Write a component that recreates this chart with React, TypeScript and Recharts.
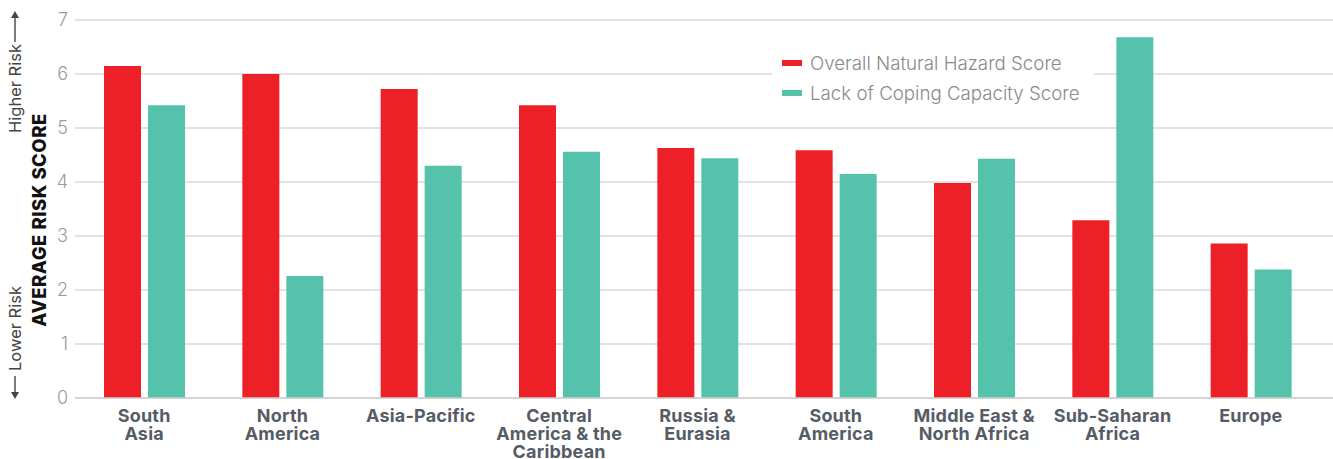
import React from 'react';
import { BarChart, Bar, XAxis, YAxis, CartesianGrid } from 'recharts';

// categories (regions) and the two score series
const regions = [
  'South Asia',
  'North America',
  'Asia-Pacific',
  'Central America & the Caribbean',
  'Russia & Eurasia',
  'South America',
  'Middle East & North Africa',
  'Sub-Saharan Africa',
  'Europe',
];
const regionLines = [
  ['South', 'Asia'],
  ['North', 'America'],
  ['Asia-Pacific'],
  ['Central', 'America & the', 'Caribbean'],
  ['Russia &', 'Eurasia'],
  ['South', 'America'],
  ['Middle East &', 'North Africa'],
  ['Sub-Saharan', 'Africa'],
  ['Europe'],
];
const hazardScores = [6.15, 6.0, 5.72, 5.42, 4.63, 4.59, 3.98, 3.29, 2.86];
const copingScores = [5.42, 2.26, 4.3, 4.56, 4.44, 4.15, 4.43, 6.68, 2.38];
const yTicks = [0, 1, 2, 3, 4, 5, 6, 7];
const seriesNames = ['Overall Natural Hazard Score', 'Lack of Coping Capacity Score'];
const seriesColors = ['#ED2027', '#55C2AC'];

const data = regions.map((name, i) => ({
  name,
  hazard: hazardScores[i],
  coping: copingScores[i],
}));

const FONT = 'Inter, Roboto, "Noto Sans", sans-serif';

const RegionTick = (props: any) => {
  const { x, y, payload } = props;
  const lines = regionLines[regions.indexOf(payload.value)] || [payload.value];
  return (
    <text
      x={x}
      y={y + 24}
      textAnchor="middle"
      fill="#555c66"
      style={{ fontFamily: FONT, fontSize: 18, fontWeight: 700, letterSpacing: '0.2px' }}
    >
      {lines.map((l: string, i: number) => (
        <tspan key={i} x={x} dy={i === 0 ? 0 : 18}>
          {l}
        </tspan>
      ))}
    </text>
  );
};

// rotated axis title with the "Higher Risk / Lower Risk" arrows
const AxisTitle = (props: any) => {
  const vb = props.viewBox || { x: 0, y: 20, width: 75, height: 378 };
  const top = vb.y;
  const bottom = vb.y + vb.height;
  const cy = vb.y + vb.height / 2 + 11;
  const ax = 15;
  return (
    <g style={{ fontFamily: FONT }}>
      <text
        transform={`translate(38.5, ${cy}) rotate(-90)`}
        textAnchor="middle"
        dominantBaseline="central"
        fill="#111"
        style={{ fontSize: 18.5, fontWeight: 800, letterSpacing: '0.5px' }}
      >
        AVERAGE RISK SCORE
      </text>
      <text
        transform={`translate(${ax}, ${top + 113}) rotate(-90)`}
        textAnchor="start"
        dominantBaseline="central"
        fill="#444"
        style={{ fontSize: 16.5 }}
      >
        Higher Risk
      </text>
      <line x1={ax} x2={ax} y1={top + 22} y2={top - 4} stroke="#444" strokeWidth={1.4} />
      <path d={`M ${ax - 4} ${top - 2} L ${ax} ${top - 9} L ${ax + 4} ${top - 2} Z`} fill="#444" />
      <text
        transform={`translate(${ax}, ${bottom - 27}) rotate(-90)`}
        textAnchor="start"
        dominantBaseline="central"
        fill="#444"
        style={{ fontSize: 16.5 }}
      >
        Lower Risk
      </text>
      <line x1={ax} x2={ax} y1={bottom - 22} y2={bottom - 4} stroke="#444" strokeWidth={1.4} />
      <path d={`M ${ax - 4} ${bottom - 6} L ${ax} ${bottom + 1} L ${ax + 4} ${bottom - 6} Z`} fill="#444" />
    </g>
  );
};

export default function App() {
  return (
    <div
      style={{
        position: 'absolute',
        top: 0,
        left: 0,
        width: 1333,
        height: 459,
        background: '#ffffff',
      }}
    >
      <BarChart
        width={1333}
        height={459}
        data={data}
        margin={{ top: 20, right: 0, left: 0, bottom: 0 }}
        barSize={37}
        barGap={7}
      >
        <CartesianGrid vertical={false} stroke="#dadada" strokeWidth={1.5} />
        <XAxis
          dataKey="name"
          interval={0}
          height={61}
          padding={{ left: 0, right: 13 }}
          tickLine={false}
          tickSize={0}
          tickMargin={0}
          axisLine={{ stroke: '#cfcfcf', strokeWidth: 1.5 }}
          tick={<RegionTick />}
        />
        <YAxis
          width={75}
          domain={[0, 7]}
          ticks={yTicks}
          interval={0}
          axisLine={false}
          tickLine={false}
          tickSize={0}
          tickMargin={7}
          tick={{ fill: '#9a9a9a', fontSize: 18, fontFamily: FONT, fontWeight: 300 }}
          label={<AxisTitle />}
        />
        <Bar dataKey="hazard" name={seriesNames[0]} fill={seriesColors[0]} isAnimationActive={false} />
        <Bar dataKey="coping" name={seriesNames[1]} fill={seriesColors[1]} isAnimationActive={false} />
      </BarChart>

      {/* legend box sits over the gridlines */}
      <div
        style={{
          position: 'absolute',
          left: 772,
          top: 40,
          width: 322,
          height: 75,
          background: '#ffffff',
          padding: '8px 0 0 10px',
          boxSizing: 'border-box',
          fontFamily: FONT,
        }}
      >
        {seriesNames.map((n, i) => (
          <div key={n} style={{ display: 'flex', alignItems: 'center', height: 30 }}>
            <div style={{ width: 20, height: 6, background: seriesColors[i], marginRight: 8 }} />
            <span style={{ fontSize: 18.7, color: '#8a8a8a', fontWeight: 300, whiteSpace: 'nowrap' }}>{n}</span>
          </div>
        ))}
      </div>
    </div>
  );
}
